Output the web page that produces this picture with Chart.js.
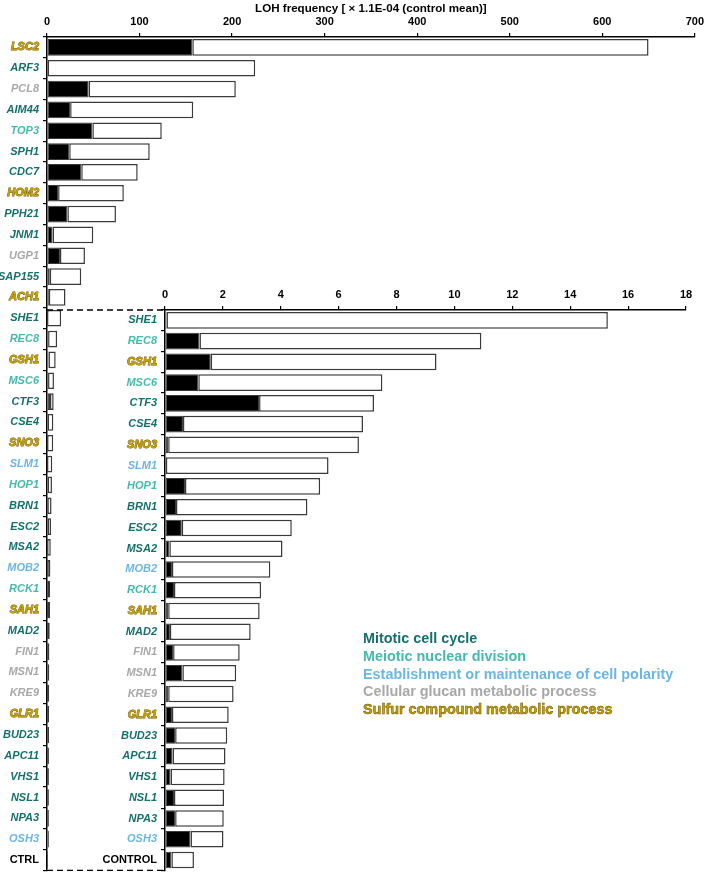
<!DOCTYPE html>
<html>
<head>
<meta charset="utf-8">
<script src="https://cdn.jsdelivr.net/npm/chart.js@4/dist/chart.umd.min.js"></script>
<style>
  html, body { margin: 0; padding: 0; background: #fff; }
  #wrap { position: relative; width: 708px; height: 881px; overflow: hidden; }
  canvas { position: absolute; left: 0; top: 0; }
  #legend { position: absolute; left: 363px; top: 630px; font-family: 'Liberation Sans', Arial, sans-serif;
            font-weight: bold; font-size: 14.4px; line-height: 17.8px; white-space: nowrap; }
</style>
</head>
<body>
<div id="wrap">
  <canvas id="main" width="708" height="881"></canvas>
  <canvas id="inset" width="708" height="881"></canvas>
  <div id="legend"></div>
</div>
<script>
// ---- Data (LOH frequency, x 1.1E-04 = control mean) ----
const genes = ['LSC2','ARF3','PCL8','AIM44','TOP3','SPH1','CDC7','HOM2','PPH21','JNM1','UGP1','SAP155','ACH1',
  'SHE1','REC8','GSH1','MSC6','CTF3','CSE4','SNO3','SLM1','HOP1','BRN1','ESC2','MSA2','MOB2','RCK1','SAH1',
  'MAD2','FIN1','MSN1','KRE9','GLR1','BUD23','APC11','VHS1','NSL1','NPA3','OSH3','CTRL'];
const insetGenes = ['SHE1','REC8','GSH1','MSC6','CTF3','CSE4','SNO3','SLM1','HOP1','BRN1','ESC2','MSA2','MOB2',
  'RCK1','SAH1','MAD2','FIN1','MSN1','KRE9','GLR1','BUD23','APC11','VHS1','NSL1','NPA3','OSH3','CONTROL'];
// GO category of each gene: M mitotic, E meiotic, P polarity, G glucan, S sulfur, C control
const categories = ['S','M','G','M','E','M','M','S','M','M','G','M','S',
  'M','E','S','E','M','M','S','P','E','M','M','M','P','E','S',
  'M','G','G','G','S','M','M','M','M','M','P','C'];
// total frequency per gene
const totalFreq = [650, 225, 204, 158, 124, 111, 98, 83, 74.5, 50, 41, 37, 20,
  15.3, 10.93, 9.38, 7.51, 7.22, 6.84, 6.70, 5.65, 5.36, 4.92, 4.38, 4.06, 3.64, 3.32, 3.27,
  2.96, 2.58, 2.46, 2.37, 2.20, 2.15, 2.09, 2.06, 2.04, 2.03, 2.02, 1.0];
// black (filled) portion per gene
const blackFreq = [157, 0, 45, 25, 49, 24, 37, 12, 22, 6, 14, 3, 2,
  0.05, 1.19, 1.58, 1.15, 3.25, 0.62, 0.11, 0.03, 0.69, 0.38, 0.58, 0.15, 0.24, 0.31, 0.11,
  0.17, 0.28, 0.60, 0.11, 0.24, 0.35, 0.26, 0.19, 0.31, 0.35, 0.88, 0.22];
const mainTicks = { min: 0, max: 700, step: 100 };
const insetTicks = { min: 0, max: 18, step: 2 };
const legendNames = [
  ['M', 'Mitotic cell cycle'],
  ['E', 'Meiotic nuclear division'],
  ['P', 'Establishment or maintenance of cell polarity'],
  ['G', 'Cellular glucan metabolic process'],
  ['S', 'Sulfur compound metabolic process']
];
// ---- Styles ----
const catColor = { M: '#15706c', E: '#46b9ad', P: '#6cb6e2', G: '#a8a8a8', S: '#c9a100', C: '#000000' };
const FONT = "'Liberation Sans', Arial, sans-serif";
const EDGE = '#3a3a3a';

const whiteFreq = totalFreq.map((t, i) => Math.max(t - blackFreq[i], 0));
const nInset = insetGenes.length;
const offset = genes.length - nInset;

function catAt(which, i) { return categories[i + (which === 'inset' ? offset : 0)]; }
function tickFont(which) {
  return (ctx) => ({ family: FONT, size: 11, weight: 'bold',
    style: catAt(which, ctx.index) === 'C' ? 'normal' : 'italic' });
}
function tickColor(which) { return (ctx) => catColor[catAt(which, ctx.index)] || '#000'; }
function tickStroke(which) { return (ctx) => catAt(which, ctx.index) === 'S' ? '#6a5600' : ''; }
function tickStrokeW(which) { return (ctx) => catAt(which, ctx.index) === 'S' ? 0.8 : 0; }

function datasets(blacks, whites) {
  return [
    { data: blacks, backgroundColor: '#000', borderColor: EDGE, borderWidth: 1, borderSkipped: false,
      categoryPercentage: 1, barPercentage: 0.8 },
    { data: whites, backgroundColor: '#fff', borderColor: EDGE, borderWidth: 1.5, borderSkipped: false,
      categoryPercentage: 1, barPercentage: 0.8 }
  ];
}

function yScale(which, width) {
  return {
    type: 'category', stacked: true, offset: true,
    afterFit: (s) => { s.width = width; },
    grid: { display: true, drawOnChartArea: false, tickLength: 4, color: '#000', lineWidth: 1.2, offset: true },
    border: { display: true, color: '#000', width: 1.5 },
    ticks: { autoSkip: false, padding: 4, font: tickFont(which), color: tickColor(which),
             textStrokeColor: tickStroke(which), textStrokeWidth: tickStrokeW(which) }
  };
}
function xScale(t, height, title) {
  return {
    type: 'linear', position: 'top', stacked: true, min: t.min, max: t.max,
    afterFit: (s) => { s.height = height; },
    grid: { display: true, drawOnChartArea: false, tickLength: 4, color: '#000', lineWidth: 1.2 },
    border: { display: true, color: '#000', width: 1.5 },
    ticks: { stepSize: t.step, padding: 4, color: '#000', font: { family: FONT, size: 11, weight: 'bold' }, maxRotation: 0 },
    title: title ? { display: true, text: title, color: '#000', padding: { top: 2, bottom: 0 },
                     font: { family: FONT, size: 11.6, weight: 'bold' } } : { display: false }
  };
}

const common = {
  responsive: false, animation: false, indexAxis: 'y',
  plugins: { legend: { display: false }, tooltip: { enabled: false } }
};

const mainChart = new Chart(document.getElementById('main'), {
  type: 'bar',
  data: { labels: genes, datasets: datasets(blackFreq, whiteFreq) },
  options: Object.assign({}, common, {
    layout: { padding: { left: 0, right: 12, top: 0, bottom: 5 } },
    scales: { x: xScale(mainTicks, 37, 'LOH frequency [ \u00d7 1.1E-04 (control mean)]'), y: yScale('main', 47) }
  })
});

const dashPlugin = {
  id: 'dashBox',
  afterDraw(chart) {
    const ctx = chart.ctx, a = chart.chartArea;
    const x0 = mainChart.chartArea.left;
    ctx.save();
    ctx.strokeStyle = '#000'; ctx.lineWidth = 1.3; ctx.setLineDash([6, 4]);
    ctx.beginPath();
    ctx.moveTo(x0, a.top); ctx.lineTo(a.left, a.top);
    ctx.moveTo(x0, a.bottom); ctx.lineTo(a.left, a.bottom);
    ctx.stroke();
    ctx.restore();
  }
};

new Chart(document.getElementById('inset'), {
  type: 'bar',
  data: { labels: insetGenes, datasets: datasets(blackFreq.slice(offset), whiteFreq.slice(offset)) },
  plugins: [dashPlugin],
  options: Object.assign({}, common, {
    layout: { padding: { left: 100, right: 22, top: 279, bottom: 5 } },
    scales: { x: xScale(insetTicks, 31, null), y: yScale('inset', 65) }
  })
});

// legend (HTML text)
const lg = document.getElementById('legend');
legendNames.forEach(([k, name]) => {
  const d = document.createElement('div');
  d.textContent = name;
  d.style.color = catColor[k];
  if (k === 'S') d.style.webkitTextStroke = '0.5px #6a5600';
  lg.appendChild(d);
});
</script>
</body>
</html>
